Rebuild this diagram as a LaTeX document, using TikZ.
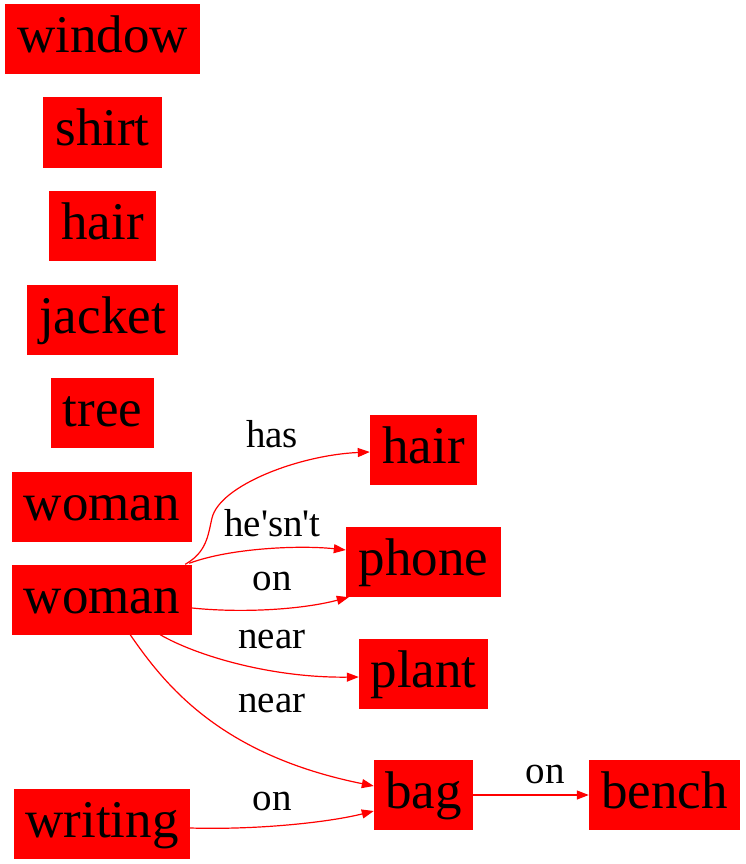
\documentclass[tikz,border=0pt]{standalone}
\usepackage{fontspec}
\setmainfont{Liberation Serif}[Ligatures=TeXOff]
\usetikzlibrary{arrows.meta}
\begin{document}
\begin{tikzpicture}[x=1pt,y=-1pt,
 box/.style={fill=red,inner sep=0pt,minimum height=70pt,text height=27pt,text depth=0pt,font=\rmfamily\fontsize{53}{60}\selectfont},
 rel/.style={draw=red,line width=1.2pt,-{Triangle[length=12pt,width=9pt]}},
 lbl/.style={anchor=base,font=\rmfamily\fontsize{39}{45}\selectfont,inner sep=0pt}]
\useasboundingbox (0,0) rectangle (745,864);
% left column
\node[box,minimum width=195pt] (win) at (102.5,39.5) {window};
\node[box,minimum width=119pt] (shi) at (102.5,132.5) {shirt};
\node[box,minimum width=107pt] (ha1) at (102.5,225.5) {hair};
\node[box,minimum width=151pt] (jac) at (102.5,319.5) {jacket};
\node[box,minimum width=103pt] (tre) at (102.5,412.5) {tree};
\node[box,minimum width=180pt] (wo1) at (102,506.5) {woman};
\node[box,minimum width=180pt] (wo2) at (102,599.5) {woman};
\node[box,minimum width=176pt] (wri) at (102,823.5) {writing};
% right column
\node[box,minimum width=107pt] (ha2) at (423.5,450) {hair};
\node[box,minimum width=155pt] (pho) at (423.5,562) {phone};
\node[box,minimum width=129pt] (pla) at (423.5,674) {plant};
\node[box,minimum width=99pt] (bag) at (423.5,795) {bag};
\node[box,minimum width=151pt] (ben) at (664.5,795) {bench};
% edges
\draw[rel] ([xshift=-7pt]wo2.north east) .. controls (207,552) and (208,535) .. (212,518)
  .. controls (220,485) and (300,455) .. ([yshift=-2pt]ha2.west);
\node[lbl] (l1) at (272,447) {has};
\draw[rel] ([xshift=-3pt,yshift=1pt]wo2.north east) .. controls (230,548) and (300,545) .. ([yshift=12pt]pho.west);
\node[lbl] (l2) at (272.5,536) {he'sn't};
\draw[rel] ([yshift=-8.5pt]wo2.east) .. controls (240,613) and (300,610) .. ([xshift=3pt]pho.south west);
\node[lbl] (l3) at (272,590) {on};
\draw[rel] ([xshift=-32pt]wo2.south east) .. controls (195,655) and (270,678) .. ([yshift=-3pt]pla.west);
\node[lbl] (l4) at (272,648) {near};
\draw[rel] ([xshift=-62pt]wo2.south east) .. controls (165,685) and (220,755) .. ([yshift=9pt]bag.west);
\node[lbl] (l5) at (272,712) {near};
\draw[rel] ([yshift=-4.5pt]wri.east) .. controls (260,830) and (330,822) .. ([yshift=-16pt]bag.west);
\node[lbl] (l6) at (272,810) {on};
\draw[rel] (bag) -- (ben);
\node[lbl] (l7) at (545,783) {on};
\end{tikzpicture}
\end{document}
